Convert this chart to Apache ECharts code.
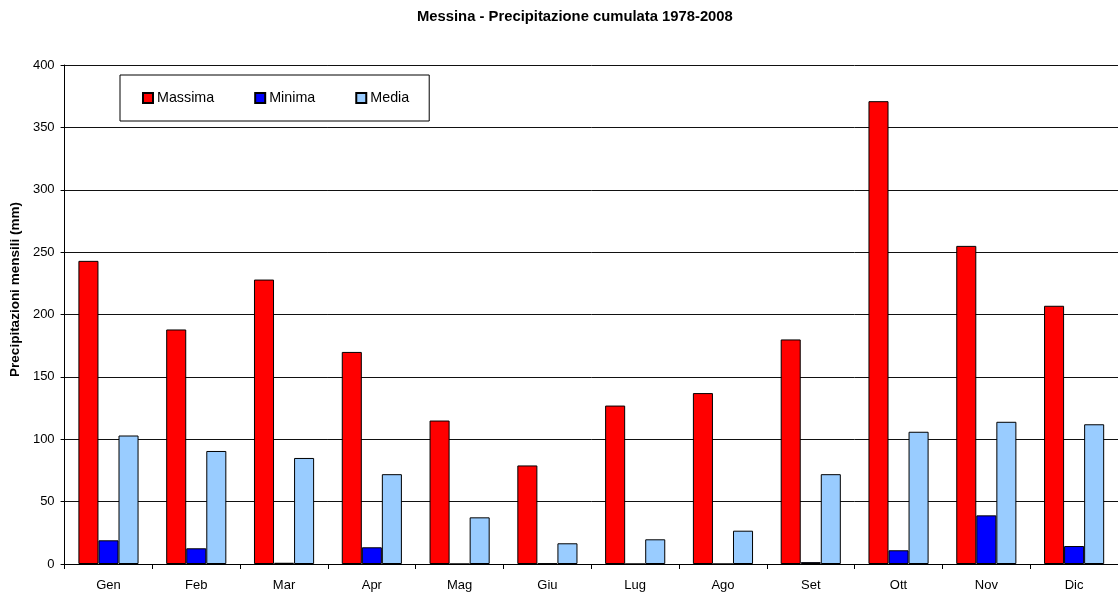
<!DOCTYPE html>
<html><head><meta charset="utf-8">
<script src="https://cdn.jsdelivr.net/npm/echarts@6/dist/echarts.min.js"></script>
<style>html,body{margin:0;padding:0;background:#fff}#c{width:1118px;height:592px}</style>
</head><body><div id="c"></div>
<script>
var categories = ['Gen','Feb','Mar','Apr','Mag','Giu','Lug','Ago','Set','Ott','Nov','Dic'];
var massima = [243, 188, 228, 170, 115, 79, 127, 137, 180, 371, 255, 207];
var minima = [19, 12.6, 1, 13.4, 0, 0.5, 0, 0, 1.5, 11, 39, 14.4];
var media = [103, 90.6, 85, 72, 37.4, 16.6, 19.8, 26.7, 72, 106, 114, 112];
var seriesNames = ['Massima','Minima','Media'];

var chart = echarts.init(document.getElementById('c'));
var font = 'Liberation Sans, Arial, sans-serif';
function bar(name, data, color){
  return {name:name, type:'bar', data:data, barGap:'0%', barCategoryGap:'31.5%',
    itemStyle:{color:color, borderColor:'#000', borderWidth:1}, animation:false};
}
chart.setOption({
  animation:false,
  title:{text:'Messina - Precipitazione cumulata 1978-2008', left:412, top:4,
    textStyle:{fontFamily:font, fontSize:14.8, fontWeight:'bold', color:'#000'}},
  legend:{left:120, top:75, orient:'horizontal', itemWidth:10, itemHeight:10, itemGap:40,
    padding:[16,20,16,22], borderColor:'#000', borderWidth:1,
    icon:'rect', textStyle:{fontFamily:font, fontSize:14.3, color:'#000', padding:[0,0,0,-1]},
    data:seriesNames},
  grid:{left:64, top:65, bottom:28, right:-13},
  xAxis:{type:'category', data:categories,
    axisLine:{lineStyle:{color:'#000'}},
    axisTick:{show:true, length:5, lineStyle:{color:'#000'}},
    axisLabel:{fontFamily:font, fontSize:13, color:'#000', margin:15}},
  yAxis:{type:'value', min:0, max:400, interval:50,
    name:'Precipitazioni mensili (mm)', nameLocation:'middle', nameGap:38,
    nameTextStyle:{fontFamily:font, fontSize:13.5, fontWeight:'bold', color:'#000', padding:[0,0,0,50]},
    axisLine:{show:true, lineStyle:{color:'#000'}},
    axisTick:{show:true, length:4, lineStyle:{color:'#000'}},
    axisLabel:{fontFamily:font, fontSize:13, color:'#000', margin:10},
    splitLine:{lineStyle:{color:'#111', width:1}}},
  series:[bar(seriesNames[0], massima, '#ff0000'), bar(seriesNames[1], minima, '#0000ff'), bar(seriesNames[2], media, '#99ccff')]
});
</script></body></html>
